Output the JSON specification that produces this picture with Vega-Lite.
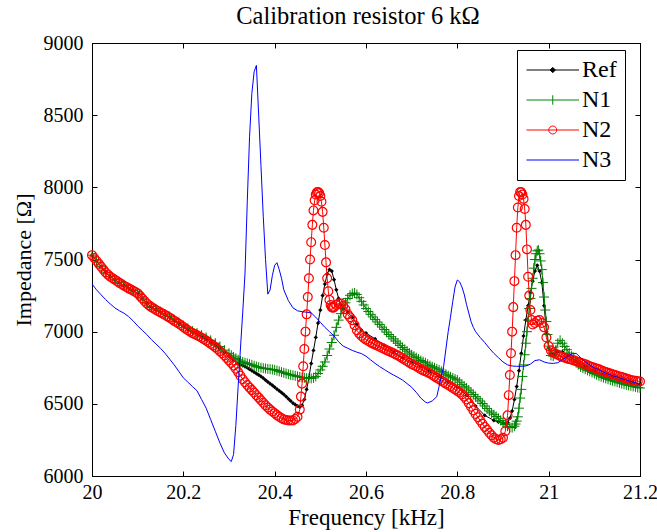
{
"$schema": "https://vega.github.io/schema/vega-lite/v6.json",
"width": 548, "height": 433,
"autosize": {"type": "none"},
"padding": {"left": 92, "top": 43, "right": 17, "bottom": 56},
"background": "white",
"title": {"text": "Calibration resistor 6 kΩ", "font": "Liberation Serif", "fontSize": 24.5, "fontWeight": "normal", "color": "black", "offset": 4, "dx": -8},
"datasets": {
"ref": [
{"f":20.00,"z":7530},{"f":20.01,"z":7490},{"f":20.02,"z":7450},{"f":20.03,"z":7411},{"f":20.04,"z":7381},{"f":20.05,"z":7361},{"f":20.06,"z":7339},{"f":20.07,"z":7319},{"f":20.08,"z":7301},{"f":20.09,"z":7284},{"f":20.10,"z":7266},{"f":20.11,"z":7231},{"f":20.12,"z":7196},{"f":20.13,"z":7172},{"f":20.14,"z":7152},{"f":20.15,"z":7135},{"f":20.16,"z":7118},{"f":20.17,"z":7100},{"f":20.18,"z":7079},{"f":20.19,"z":7059},{"f":20.20,"z":7037},{"f":20.21,"z":7016},{"f":20.22,"z":6997},{"f":20.23,"z":6982},{"f":20.24,"z":6966},{"f":20.25,"z":6948},{"f":20.26,"z":6927},{"f":20.27,"z":6906},{"f":20.28,"z":6882},{"f":20.29,"z":6855},{"f":20.30,"z":6828},{"f":20.31,"z":6800},{"f":20.32,"z":6780},{"f":20.325,"z":6772},{"f":20.33,"z":6765},{"f":20.335,"z":6758},{"f":20.34,"z":6750},{"f":20.345,"z":6740},{"f":20.35,"z":6730},{"f":20.355,"z":6720},{"f":20.36,"z":6710},{"f":20.365,"z":6700},{"f":20.37,"z":6690},{"f":20.375,"z":6678},{"f":20.38,"z":6665},{"f":20.385,"z":6652},{"f":20.39,"z":6640},{"f":20.395,"z":6628},{"f":20.40,"z":6615},{"f":20.405,"z":6602},{"f":20.41,"z":6590},{"f":20.415,"z":6578},{"f":20.42,"z":6565},{"f":20.425,"z":6550},{"f":20.43,"z":6535},{"f":20.435,"z":6520},{"f":20.44,"z":6505},{"f":20.445,"z":6494},{"f":20.45,"z":6485},{"f":20.455,"z":6478},{"f":20.46,"z":6490},{"f":20.465,"z":6530},{"f":20.47,"z":6600},{"f":20.475,"z":6680},{"f":20.48,"z":6780},{"f":20.485,"z":6870},{"f":20.49,"z":6960},{"f":20.495,"z":7060},{"f":20.50,"z":7150},{"f":20.505,"z":7250},{"f":20.51,"z":7330},{"f":20.515,"z":7400},{"f":20.52,"z":7430},{"f":20.525,"z":7420},{"f":20.53,"z":7360},{"f":20.535,"z":7290},{"f":20.54,"z":7230},{"f":20.545,"z":7185},{"f":20.55,"z":7160},{"f":20.56,"z":7135},{"f":20.57,"z":7100},{"f":20.58,"z":7050},{"f":20.59,"z":7010},{"f":20.60,"z":6990},{"f":20.62,"z":6950},{"f":20.64,"z":6905},{"f":20.66,"z":6860},{"f":20.68,"z":6820},{"f":20.70,"z":6790},{"f":20.72,"z":6760},{"f":20.74,"z":6725},{"f":20.76,"z":6690},{"f":20.78,"z":6650},{"f":20.80,"z":6615},{"f":20.82,"z":6560},{"f":20.84,"z":6485},{"f":20.86,"z":6420},{"f":20.88,"z":6385},{"f":20.89,"z":6375},{"f":20.90,"z":6368},{"f":20.905,"z":6365},{"f":20.91,"z":6370},{"f":20.915,"z":6400},{"f":20.92,"z":6450},{"f":20.925,"z":6530},{"f":20.93,"z":6620},{"f":20.935,"z":6730},{"f":20.94,"z":6850},{"f":20.945,"z":6970},{"f":20.95,"z":7080},{"f":20.955,"z":7180},{"f":20.96,"z":7270},{"f":20.965,"z":7350},{"f":20.97,"z":7420},{"f":20.975,"z":7460},{"f":20.98,"z":7420},{"f":20.985,"z":7340},{"f":20.99,"z":7180},{"f":20.995,"z":7000},{"f":21.00,"z":6890},{"f":21.005,"z":6850},{"f":21.01,"z":6845},{"f":21.02,"z":6860},{"f":21.03,"z":6860},{"f":21.04,"z":6840},{"f":21.06,"z":6795},{"f":21.08,"z":6760},{"f":21.10,"z":6730},{"f":21.12,"z":6705},{"f":21.14,"z":6685},{"f":21.16,"z":6665},{"f":21.18,"z":6645},{"f":21.20,"z":6635}
],
"n1": [
{"f":20.00,"z":7530},{"f":20.01,"z":7490},{"f":20.02,"z":7450},{"f":20.03,"z":7412},{"f":20.04,"z":7382},{"f":20.05,"z":7362},{"f":20.06,"z":7340},{"f":20.07,"z":7320},{"f":20.08,"z":7302},{"f":20.09,"z":7285},{"f":20.10,"z":7267},{"f":20.11,"z":7233},{"f":20.12,"z":7198},{"f":20.13,"z":7174},{"f":20.14,"z":7155},{"f":20.15,"z":7138},{"f":20.16,"z":7121},{"f":20.17,"z":7104},{"f":20.18,"z":7083},{"f":20.19,"z":7064},{"f":20.20,"z":7042},{"f":20.21,"z":7022},{"f":20.22,"z":7004},{"f":20.23,"z":6990},{"f":20.24,"z":6976},{"f":20.25,"z":6960},{"f":20.26,"z":6940},{"f":20.27,"z":6920},{"f":20.28,"z":6897},{"f":20.29,"z":6872},{"f":20.30,"z":6850},{"f":20.305,"z":6837},{"f":20.31,"z":6825},{"f":20.315,"z":6815},{"f":20.32,"z":6805},{"f":20.325,"z":6797},{"f":20.33,"z":6790},{"f":20.335,"z":6785},{"f":20.34,"z":6780},{"f":20.345,"z":6775},{"f":20.35,"z":6770},{"f":20.355,"z":6764},{"f":20.36,"z":6758},{"f":20.365,"z":6754},{"f":20.37,"z":6750},{"f":20.375,"z":6747},{"f":20.38,"z":6745},{"f":20.385,"z":6742},{"f":20.39,"z":6740},{"f":20.395,"z":6738},{"f":20.40,"z":6735},{"f":20.405,"z":6730},{"f":20.41,"z":6725},{"f":20.415,"z":6720},{"f":20.42,"z":6715},{"f":20.425,"z":6710},{"f":20.43,"z":6705},{"f":20.435,"z":6701},{"f":20.44,"z":6698},{"f":20.445,"z":6694},{"f":20.45,"z":6690},{"f":20.455,"z":6686},{"f":20.46,"z":6683},{"f":20.465,"z":6680},{"f":20.47,"z":6678},{"f":20.475,"z":6677},{"f":20.48,"z":6676},{"f":20.485,"z":6680},{"f":20.49,"z":6690},{"f":20.495,"z":6710},{"f":20.50,"z":6735},{"f":20.505,"z":6760},{"f":20.51,"z":6790},{"f":20.515,"z":6835},{"f":20.52,"z":6880},{"f":20.525,"z":6925},{"f":20.53,"z":6975},{"f":20.535,"z":7030},{"f":20.54,"z":7080},{"f":20.545,"z":7125},{"f":20.55,"z":7165},{"f":20.555,"z":7200},{"f":20.56,"z":7230},{"f":20.565,"z":7252},{"f":20.57,"z":7264},{"f":20.575,"z":7268},{"f":20.58,"z":7258},{"f":20.585,"z":7235},{"f":20.59,"z":7210},{"f":20.595,"z":7185},{"f":20.60,"z":7160},{"f":20.605,"z":7140},{"f":20.61,"z":7120},{"f":20.615,"z":7102},{"f":20.62,"z":7085},{"f":20.625,"z":7067},{"f":20.63,"z":7050},{"f":20.635,"z":7032},{"f":20.64,"z":7015},{"f":20.645,"z":6997},{"f":20.65,"z":6980},{"f":20.655,"z":6965},{"f":20.66,"z":6950},{"f":20.665,"z":6935},{"f":20.67,"z":6920},{"f":20.675,"z":6905},{"f":20.68,"z":6890},{"f":20.685,"z":6877},{"f":20.69,"z":6865},{"f":20.695,"z":6852},{"f":20.70,"z":6840},{"f":20.705,"z":6830},{"f":20.71,"z":6820},{"f":20.715,"z":6810},{"f":20.72,"z":6800},{"f":20.725,"z":6792},{"f":20.73,"z":6785},{"f":20.735,"z":6775},{"f":20.74,"z":6765},{"f":20.745,"z":6757},{"f":20.75,"z":6750},{"f":20.755,"z":6742},{"f":20.76,"z":6735},{"f":20.765,"z":6725},{"f":20.77,"z":6715},{"f":20.775,"z":6705},{"f":20.78,"z":6695},{"f":20.785,"z":6687},{"f":20.79,"z":6680},{"f":20.795,"z":6672},{"f":20.80,"z":6665},{"f":20.805,"z":6650},{"f":20.81,"z":6635},{"f":20.815,"z":6622},{"f":20.82,"z":6610},{"f":20.825,"z":6595},{"f":20.83,"z":6580},{"f":20.835,"z":6565},{"f":20.84,"z":6550},{"f":20.845,"z":6535},{"f":20.85,"z":6520},{"f":20.855,"z":6502},{"f":20.86,"z":6485},{"f":20.865,"z":6467},{"f":20.87,"z":6450},{"f":20.875,"z":6437},{"f":20.88,"z":6425},{"f":20.885,"z":6412},{"f":20.89,"z":6400},{"f":20.895,"z":6385},{"f":20.90,"z":6370},{"f":20.905,"z":6357},{"f":20.91,"z":6345},{"f":20.915,"z":6338},{"f":20.92,"z":6335},{"f":20.925,"z":6345},{"f":20.9275,"z":6360},{"f":20.93,"z":6380},{"f":20.9325,"z":6410},{"f":20.935,"z":6470},{"f":20.9375,"z":6540},{"f":20.94,"z":6600},{"f":20.9425,"z":6690},{"f":20.945,"z":6770},{"f":20.9475,"z":6840},{"f":20.95,"z":6920},{"f":20.9525,"z":7000},{"f":20.955,"z":7080},{"f":20.9575,"z":7160},{"f":20.96,"z":7230},{"f":20.9625,"z":7300},{"f":20.965,"z":7370},{"f":20.9675,"z":7440},{"f":20.97,"z":7500},{"f":20.9725,"z":7540},{"f":20.975,"z":7560},{"f":20.9775,"z":7565},{"f":20.98,"z":7540},{"f":20.9825,"z":7490},{"f":20.985,"z":7430},{"f":20.9875,"z":7340},{"f":20.99,"z":7240},{"f":20.9925,"z":7150},{"f":20.995,"z":7070},{"f":20.9975,"z":6980},{"f":21.00,"z":6900},{"f":21.005,"z":6835},{"f":21.01,"z":6830},{"f":21.015,"z":6870},{"f":21.02,"z":6920},{"f":21.025,"z":6940},{"f":21.03,"z":6920},{"f":21.035,"z":6898},{"f":21.04,"z":6875},{"f":21.045,"z":6852},{"f":21.05,"z":6830},{"f":21.055,"z":6810},{"f":21.06,"z":6790},{"f":21.065,"z":6772},{"f":21.07,"z":6755},{"f":21.075,"z":6747},{"f":21.08,"z":6740},{"f":21.085,"z":6732},{"f":21.09,"z":6725},{"f":21.095,"z":6717},{"f":21.10,"z":6710},{"f":21.105,"z":6702},{"f":21.11,"z":6695},{"f":21.115,"z":6688},{"f":21.12,"z":6682},{"f":21.125,"z":6676},{"f":21.13,"z":6670},{"f":21.135,"z":6665},{"f":21.14,"z":6660},{"f":21.145,"z":6655},{"f":21.15,"z":6650},{"f":21.155,"z":6645},{"f":21.16,"z":6640},{"f":21.165,"z":6636},{"f":21.17,"z":6632},{"f":21.175,"z":6628},{"f":21.18,"z":6625},{"f":21.185,"z":6621},{"f":21.19,"z":6617},{"f":21.195,"z":6613},{"f":21.20,"z":6610}
],
"n2": [
{"f":20.000,"z":7530},{"f":20.005,"z":7510},{"f":20.010,"z":7490},{"f":20.015,"z":7470},{"f":20.020,"z":7450},{"f":20.025,"z":7430},{"f":20.030,"z":7410},{"f":20.035,"z":7395},{"f":20.040,"z":7380},{"f":20.045,"z":7370},{"f":20.050,"z":7360},{"f":20.055,"z":7349},{"f":20.060,"z":7338},{"f":20.065,"z":7328},{"f":20.070,"z":7318},{"f":20.075,"z":7309},{"f":20.080,"z":7300},{"f":20.085,"z":7292},{"f":20.090,"z":7283},{"f":20.095,"z":7275},{"f":20.100,"z":7265},{"f":20.105,"z":7248},{"f":20.110,"z":7230},{"f":20.115,"z":7212},{"f":20.120,"z":7195},{"f":20.125,"z":7182},{"f":20.130,"z":7170},{"f":20.135,"z":7160},{"f":20.140,"z":7150},{"f":20.145,"z":7141},{"f":20.150,"z":7133},{"f":20.155,"z":7124},{"f":20.160,"z":7115},{"f":20.165,"z":7106},{"f":20.170,"z":7097},{"f":20.175,"z":7086},{"f":20.180,"z":7075},{"f":20.185,"z":7065},{"f":20.190,"z":7055},{"f":20.195,"z":7044},{"f":20.200,"z":7032},{"f":20.205,"z":7021},{"f":20.210,"z":7010},{"f":20.215,"z":7000},{"f":20.220,"z":6990},{"f":20.225,"z":6983},{"f":20.230,"z":6975},{"f":20.235,"z":6967},{"f":20.240,"z":6958},{"f":20.245,"z":6948},{"f":20.250,"z":6938},{"f":20.255,"z":6927},{"f":20.260,"z":6915},{"f":20.265,"z":6904},{"f":20.270,"z":6893},{"f":20.275,"z":6880},{"f":20.280,"z":6865},{"f":20.285,"z":6850},{"f":20.290,"z":6835},{"f":20.295,"z":6818},{"f":20.300,"z":6800},{"f":20.305,"z":6783},{"f":20.310,"z":6765},{"f":20.315,"z":6743},{"f":20.320,"z":6720},{"f":20.325,"z":6695},{"f":20.330,"z":6670},{"f":20.335,"z":6650},{"f":20.340,"z":6630},{"f":20.345,"z":6612},{"f":20.350,"z":6595},{"f":20.355,"z":6578},{"f":20.360,"z":6560},{"f":20.365,"z":6543},{"f":20.370,"z":6525},{"f":20.375,"z":6507},{"f":20.380,"z":6490},{"f":20.385,"z":6475},{"f":20.390,"z":6460},{"f":20.395,"z":6447},{"f":20.400,"z":6435},{"f":20.405,"z":6422},{"f":20.410,"z":6410},{"f":20.415,"z":6400},{"f":20.420,"z":6392},{"f":20.425,"z":6388},{"f":20.430,"z":6385},{"f":20.435,"z":6384},{"f":20.440,"z":6385},{"f":20.445,"z":6395},{"f":20.450,"z":6410},{"f":20.455,"z":6460},{"f":20.4575,"z":6550},{"f":20.46,"z":6640},{"f":20.4625,"z":6760},{"f":20.465,"z":6880},{"f":20.4675,"z":7000},{"f":20.47,"z":7120},{"f":20.4725,"z":7240},{"f":20.475,"z":7370},{"f":20.4775,"z":7500},{"f":20.48,"z":7620},{"f":20.4825,"z":7740},{"f":20.485,"z":7840},{"f":20.4875,"z":7910},{"f":20.49,"z":7950},{"f":20.4925,"z":7965},{"f":20.495,"z":7968},{"f":20.4975,"z":7960},{"f":20.50,"z":7940},{"f":20.5025,"z":7900},{"f":20.505,"z":7830},{"f":20.5075,"z":7720},{"f":20.51,"z":7600},{"f":20.5125,"z":7480},{"f":20.515,"z":7370},{"f":20.5175,"z":7280},{"f":20.52,"z":7220},{"f":20.5225,"z":7185},{"f":20.525,"z":7170},{"f":20.5275,"z":7165},{"f":20.53,"z":7170},{"f":20.535,"z":7185},{"f":20.54,"z":7195},{"f":20.545,"z":7195},{"f":20.55,"z":7180},{"f":20.555,"z":7155},{"f":20.56,"z":7120},{"f":20.565,"z":7100},{"f":20.57,"z":7080},{"f":20.575,"z":7045},{"f":20.580,"z":7010},{"f":20.585,"z":6988},{"f":20.590,"z":6970},{"f":20.595,"z":6956},{"f":20.600,"z":6945},{"f":20.605,"z":6935},{"f":20.610,"z":6925},{"f":20.615,"z":6917},{"f":20.620,"z":6910},{"f":20.625,"z":6902},{"f":20.630,"z":6895},{"f":20.635,"z":6887},{"f":20.640,"z":6880},{"f":20.645,"z":6872},{"f":20.650,"z":6865},{"f":20.655,"z":6857},{"f":20.660,"z":6850},{"f":20.665,"z":6842},{"f":20.670,"z":6835},{"f":20.675,"z":6825},{"f":20.680,"z":6815},{"f":20.685,"z":6805},{"f":20.690,"z":6795},{"f":20.695,"z":6785},{"f":20.700,"z":6775},{"f":20.705,"z":6767},{"f":20.710,"z":6760},{"f":20.715,"z":6750},{"f":20.720,"z":6740},{"f":20.725,"z":6732},{"f":20.730,"z":6725},{"f":20.735,"z":6717},{"f":20.740,"z":6710},{"f":20.745,"z":6700},{"f":20.750,"z":6690},{"f":20.755,"z":6680},{"f":20.760,"z":6670},{"f":20.765,"z":6660},{"f":20.770,"z":6650},{"f":20.775,"z":6640},{"f":20.780,"z":6630},{"f":20.785,"z":6620},{"f":20.790,"z":6610},{"f":20.795,"z":6600},{"f":20.800,"z":6590},{"f":20.805,"z":6578},{"f":20.810,"z":6565},{"f":20.815,"z":6550},{"f":20.820,"z":6530},{"f":20.825,"z":6505},{"f":20.830,"z":6480},{"f":20.835,"z":6455},{"f":20.840,"z":6430},{"f":20.845,"z":6407},{"f":20.850,"z":6385},{"f":20.855,"z":6362},{"f":20.860,"z":6340},{"f":20.865,"z":6320},{"f":20.870,"z":6300},{"f":20.875,"z":6282},{"f":20.880,"z":6265},{"f":20.885,"z":6255},{"f":20.890,"z":6250},{"f":20.895,"z":6255},{"f":20.900,"z":6265},{"f":20.905,"z":6310},{"f":20.91,"z":6420},{"f":20.9125,"z":6560},{"f":20.915,"z":6700},{"f":20.9175,"z":6850},{"f":20.92,"z":7000},{"f":20.9225,"z":7170},{"f":20.925,"z":7350},{"f":20.9275,"z":7530},{"f":20.93,"z":7720},{"f":20.9325,"z":7860},{"f":20.935,"z":7940},{"f":20.9375,"z":7968},{"f":20.94,"z":7965},{"f":20.9425,"z":7950},{"f":20.945,"z":7920},{"f":20.9475,"z":7850},{"f":20.95,"z":7740},{"f":20.9525,"z":7570},{"f":20.955,"z":7380},{"f":20.9575,"z":7250},{"f":20.96,"z":7150},{"f":20.9625,"z":7080},{"f":20.965,"z":7050},{"f":20.97,"z":7060},{"f":20.975,"z":7075},{"f":20.98,"z":7080},{"f":20.985,"z":7060},{"f":20.99,"z":7030},{"f":20.995,"z":6960},{"f":21.00,"z":6900},{"f":21.005,"z":6870},{"f":21.010,"z":6855},{"f":21.015,"z":6847},{"f":21.020,"z":6840},{"f":21.025,"z":6832},{"f":21.030,"z":6825},{"f":21.035,"z":6820},{"f":21.040,"z":6815},{"f":21.045,"z":6810},{"f":21.050,"z":6805},{"f":21.055,"z":6800},{"f":21.060,"z":6795},{"f":21.065,"z":6790},{"f":21.070,"z":6785},{"f":21.075,"z":6780},{"f":21.080,"z":6775},{"f":21.085,"z":6767},{"f":21.090,"z":6760},{"f":21.095,"z":6755},{"f":21.100,"z":6750},{"f":21.105,"z":6745},{"f":21.110,"z":6740},{"f":21.115,"z":6732},{"f":21.120,"z":6725},{"f":21.125,"z":6720},{"f":21.130,"z":6715},{"f":21.135,"z":6710},{"f":21.140,"z":6705},{"f":21.145,"z":6700},{"f":21.150,"z":6695},{"f":21.155,"z":6690},{"f":21.160,"z":6685},{"f":21.165,"z":6680},{"f":21.170,"z":6675},{"f":21.175,"z":6670},{"f":21.180,"z":6665},{"f":21.185,"z":6662},{"f":21.190,"z":6660},{"f":21.195,"z":6657},{"f":21.200,"z":6655}
],
"n3": [
{"f":20.00,"z":7330},{"f":20.01,"z":7290},{"f":20.02,"z":7255},{"f":20.03,"z":7222},{"f":20.04,"z":7192},{"f":20.05,"z":7165},{"f":20.06,"z":7145},{"f":20.07,"z":7128},{"f":20.08,"z":7105},{"f":20.09,"z":7075},{"f":20.10,"z":7040},{"f":20.11,"z":7010},{"f":20.12,"z":6980},{"f":20.13,"z":6945},{"f":20.14,"z":6915},{"f":20.15,"z":6885},{"f":20.16,"z":6850},{"f":20.17,"z":6810},{"f":20.18,"z":6770},{"f":20.19,"z":6725},{"f":20.20,"z":6680},{"f":20.21,"z":6650},{"f":20.22,"z":6620},{"f":20.23,"z":6590},{"f":20.24,"z":6530},{"f":20.25,"z":6470},{"f":20.26,"z":6390},{"f":20.27,"z":6310},{"f":20.28,"z":6230},{"f":20.29,"z":6160},{"f":20.30,"z":6115},{"f":20.305,"z":6100},{"f":20.31,"z":6150},{"f":20.315,"z":6350},{"f":20.32,"z":6620},{"f":20.325,"z":6880},{"f":20.33,"z":7130},{"f":20.335,"z":7400},{"f":20.34,"z":7900},{"f":20.345,"z":8350},{"f":20.35,"z":8650},{"f":20.355,"z":8800},{"f":20.36,"z":8845},{"f":20.365,"z":8500},{"f":20.37,"z":8150},{"f":20.375,"z":7800},{"f":20.38,"z":7500},{"f":20.385,"z":7260},{"f":20.39,"z":7290},{"f":20.395,"z":7390},{"f":20.40,"z":7460},{"f":20.405,"z":7478},{"f":20.41,"z":7430},{"f":20.415,"z":7370},{"f":20.42,"z":7290},{"f":20.43,"z":7215},{"f":20.44,"z":7165},{"f":20.45,"z":7145},{"f":20.46,"z":7138},{"f":20.47,"z":7135},{"f":20.48,"z":7130},{"f":20.49,"z":7100},{"f":20.50,"z":7065},{"f":20.51,"z":7030},{"f":20.52,"z":7000},{"f":20.53,"z":6970},{"f":20.54,"z":6930},{"f":20.55,"z":6900},{"f":20.56,"z":6885},{"f":20.57,"z":6870},{"f":20.58,"z":6858},{"f":20.59,"z":6848},{"f":20.60,"z":6830},{"f":20.61,"z":6805},{"f":20.62,"z":6780},{"f":20.63,"z":6758},{"f":20.64,"z":6738},{"f":20.65,"z":6718},{"f":20.66,"z":6700},{"f":20.67,"z":6683},{"f":20.68,"z":6665},{"f":20.69,"z":6640},{"f":20.70,"z":6615},{"f":20.71,"z":6580},{"f":20.72,"z":6540},{"f":20.73,"z":6512},{"f":20.735,"z":6506},{"f":20.745,"z":6520},{"f":20.755,"z":6550},{"f":20.76,"z":6620},{"f":20.765,"z":6690},{"f":20.77,"z":6760},{"f":20.775,"z":6880},{"f":20.78,"z":7000},{"f":20.785,"z":7100},{"f":20.79,"z":7210},{"f":20.795,"z":7310},{"f":20.80,"z":7358},{"f":20.805,"z":7345},{"f":20.81,"z":7310},{"f":20.815,"z":7260},{"f":20.82,"z":7190},{"f":20.825,"z":7130},{"f":20.83,"z":7070},{"f":20.835,"z":7030},{"f":20.84,"z":7000},{"f":20.85,"z":6960},{"f":20.86,"z":6925},{"f":20.87,"z":6885},{"f":20.88,"z":6850},{"f":20.89,"z":6820},{"f":20.90,"z":6790},{"f":20.91,"z":6770},{"f":20.92,"z":6762},{"f":20.93,"z":6760},{"f":20.94,"z":6760},{"f":20.95,"z":6762},{"f":20.96,"z":6775},{"f":20.97,"z":6800},{"f":20.98,"z":6805},{"f":20.99,"z":6790},{"f":21.00,"z":6782},{"f":21.01,"z":6780},{"f":21.02,"z":6785},{"f":21.03,"z":6805},{"f":21.04,"z":6825},{"f":21.05,"z":6845},{"f":21.06,"z":6850},{"f":21.07,"z":6820},{"f":21.08,"z":6790},{"f":21.09,"z":6770},{"f":21.10,"z":6750},{"f":21.11,"z":6735},{"f":21.12,"z":6720},{"f":21.13,"z":6705},{"f":21.14,"z":6695},{"f":21.15,"z":6686},{"f":21.16,"z":6675},{"f":21.17,"z":6665},{"f":21.18,"z":6655},{"f":21.19,"z":6645},{"f":21.20,"z":6635}
]
},
"layer": [
{"data": {"name": "ref"}, "mark": {"type": "line", "strokeWidth": 1},
 "encoding": {
  "x": {"field": "f", "type": "quantitative", "scale": {"domain": [20, 21.2], "nice": false, "zero": false},
        "axis": {"orient": "bottom", "values": [20, 20.2, 20.4, 20.6, 20.8, 21, 21.2], "format": "~g", "title": "Frequency [kHz]", "titleFontSize": 23, "tickSize": -5, "labelPadding": 11, "titlePadding": 4, "grid": false, "labelFlush": false}},
  "y": {"field": "z", "type": "quantitative", "scale": {"domain": [6000, 9000], "nice": false, "zero": false},
        "axis": {"orient": "left", "values": [6000, 6500, 7000, 7500, 8000, 8500, 9000], "format": "d", "title": "Impedance [Ω]", "tickSize": -5, "labelPadding": 14, "titlePadding": 8, "grid": false, "labelFlush": false}},
  "color": {"datum": "Ref", "type": "nominal",
    "scale": {"domain": ["Ref", "N1", "N2", "N3"], "range": ["black", "#008000", "red", "blue"]},
    "legend": {"title": null, "orient": "none", "legendX": 425, "legendY": 7,
      "symbolSize": 441, "labelOffset": 33, "rowPadding": 6, "padding": 8,
      "labelFont": "Liberation Serif", "labelFontSize": 24, "labelColor": "black",
      "strokeColor": "black", "fillColor": "white", "cornerRadius": 0,
      "encode": {"symbols": {"update": {
        "shape": {"signal": "datum.value === 'Ref' ? 'M-1,0L4,0M1.5,-0.25L1.75,0L1.5,0.25L1.25,0Z' : datum.value === 'N1' ? 'M-1,0L4,0M1.5,-0.45L1.5,0.45' : datum.value === 'N2' ? 'M-1,0L4,0M1.12,0A0.38,0.38 0 1,0 1.88,0A0.38,0.38 0 1,0 1.12,0' : 'M-1,0L4,0'"},
        "fill": {"signal": "datum.value === 'Ref' ? 'black' : 'transparent'"},
        "fillOpacity": {"signal": "datum.value === 'Ref' ? 1 : 0"},
        "stroke": {"signal": "datum.value === 'Ref' ? 'black' : datum.value === 'N1' ? '#008000' : datum.value === 'N2' ? 'red' : 'blue'"},
        "strokeWidth": {"value": 1},
        "opacity": {"value": 1}
      }}}}}
 }},
{"data": {"name": "ref"}, "mark": {"type": "point", "shape": "diamond", "filled": true, "size": 18, "opacity": 1},
 "encoding": {
  "x": {"field": "f", "type": "quantitative", "axis": {"orient": "top", "values": [20, 20.2, 20.4, 20.6, 20.8, 21, 21.2], "labels": false, "title": null, "tickSize": -5, "grid": false}},
  "y": {"field": "z", "type": "quantitative", "axis": {"orient": "right", "values": [6000, 6500, 7000, 7500, 8000, 8500, 9000], "labels": false, "title": null, "tickSize": -5, "grid": false}},
  "color": {"datum": "Ref", "type": "nominal"}
 }},
{"data": {"name": "n1"}, "mark": {"type": "line", "strokeWidth": 1},
 "encoding": {
  "x": {"field": "f", "type": "quantitative", "axis": null},
  "y": {"field": "z", "type": "quantitative", "axis": null},
  "color": {"datum": "N1", "type": "nominal"}
 }},
{"data": {"name": "n1"}, "mark": {"type": "point", "shape": "M-1,0L1,0M0,-1L0,1", "filled": false, "size": 100, "strokeWidth": 1, "opacity": 1},
 "encoding": {
  "x": {"field": "f", "type": "quantitative", "axis": null},
  "y": {"field": "z", "type": "quantitative", "axis": null},
  "color": {"datum": "N1", "type": "nominal"}
 }},
{"data": {"name": "n2"}, "mark": {"type": "line", "strokeWidth": 1},
 "encoding": {
  "x": {"field": "f", "type": "quantitative", "axis": null},
  "y": {"field": "z", "type": "quantitative", "axis": null},
  "color": {"datum": "N2", "type": "nominal"}
 }},
{"data": {"name": "n2"}, "mark": {"type": "point", "shape": "circle", "filled": false, "size": 78, "strokeWidth": 1.2, "opacity": 1},
 "encoding": {
  "x": {"field": "f", "type": "quantitative", "axis": null},
  "y": {"field": "z", "type": "quantitative", "axis": null},
  "color": {"datum": "N2", "type": "nominal"}
 }},
{"data": {"name": "n3"}, "mark": {"type": "line", "strokeWidth": 1},
 "encoding": {
  "x": {"field": "f", "type": "quantitative", "axis": null},
  "y": {"field": "z", "type": "quantitative", "axis": null},
  "color": {"datum": "N3", "type": "nominal"}
 }}
],
"resolve": {"axis": {"x": "independent", "y": "independent"}},
"config": {
  "view": {"stroke": "black", "strokeWidth": 1},
  "axis": {"labelFont": "Liberation Serif", "labelFontSize": 20, "labelColor": "black", "titleFont": "Liberation Serif", "titleFontSize": 22, "titleFontWeight": "normal", "titleColor": "black", "domainColor": "black", "tickColor": "black", "domainWidth": 1, "tickWidth": 1},
  "font": "Liberation Serif"
}
}
